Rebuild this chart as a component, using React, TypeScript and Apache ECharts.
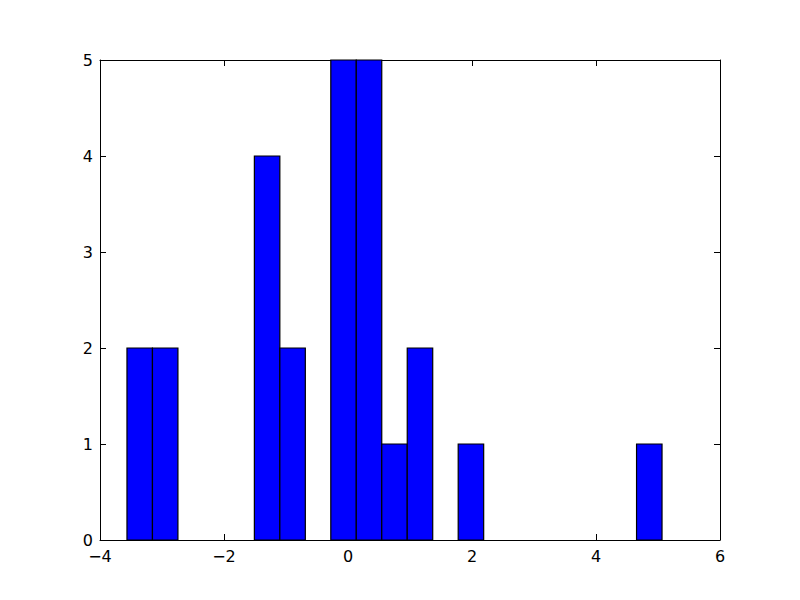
import React, { useEffect, useRef } from "react";
import * as echarts from "echarts";

// Histogram definition
const binStart = -3.565;
const binWidth = 0.41095;
const counts = [2, 2, 0, 0, 0, 4, 2, 0, 5, 5, 1, 2, 0, 1, 0, 0, 0, 0, 0, 0, 1];
const xTicks = [-4, -2, 0, 2, 4, 6];
const yTicks = [0, 1, 2, 3, 4, 5];

const fmt = (v: number) => (v < 0 ? "\u2212" + Math.abs(v) : String(v));

export default function App() {
  const ref = useRef<HTMLDivElement>(null);
  useEffect(() => {
    if (!ref.current) return;
    const chart = echarts.init(ref.current, undefined, { renderer: "svg" });
    const data = counts.map((c, i) => [binStart + i * binWidth, binStart + (i + 1) * binWidth, c]);
    const font = { fontFamily: "DejaVu Sans", fontSize: 16, color: "#000", lineHeight: 14 };
    const line = { show: true, lineStyle: { color: "#000", width: 1 } };
    const tick = { show: true, inside: true, length: 6, lineStyle: { color: "#000", width: 1 } };
    chart.setOption({
      animation: false,
      backgroundColor: "#fff",
      grid: { left: 100, right: 80, top: 60, bottom: 60, containLabel: false },
      xAxis: [
        {
          type: "value", min: xTicks[0], max: xTicks[xTicks.length - 1], interval: 2,
          position: "bottom",
          axisLine: { ...line, onZero: false }, axisTick: tick, splitLine: { show: false },
          axisLabel: { ...font, margin: 9, formatter: fmt },
        },
        {
          type: "value", min: xTicks[0], max: xTicks[xTicks.length - 1], interval: 2,
          position: "top",
          axisLine: { ...line, onZero: false }, axisTick: tick, splitLine: { show: false },
          axisLabel: { show: false },
        },
      ],
      yAxis: [
        {
          type: "value", min: yTicks[0], max: yTicks[yTicks.length - 1], interval: 1,
          position: "left",
          axisLine: { ...line, onZero: false }, axisTick: tick, splitLine: { show: false },
          axisLabel: { ...font, margin: 7, formatter: fmt },
        },
        {
          type: "value", min: yTicks[0], max: yTicks[yTicks.length - 1], interval: 1,
          position: "right",
          axisLine: { ...line, onZero: false }, axisTick: tick, splitLine: { show: false },
          axisLabel: { show: false },
        },
      ],
      series: [
        {
          type: "custom",
          xAxisIndex: 0,
          yAxisIndex: 0,
          data,
          encode: { x: [0, 1], y: 2 },
          renderItem: (params: any, api: any) => {
            const h = api.value(2);
            if (!h) return null;
            const p0 = api.coord([api.value(0), h]);
            const p1 = api.coord([api.value(1), 0]);
            return {
              type: "rect",
              shape: { x: p0[0], y: p0[1], width: p1[0] - p0[0], height: p1[1] - p0[1] },
              style: { fill: "#0000ff", stroke: "#000", lineWidth: 1.2 },
            };
          },
        },
      ],
    });
    return () => chart.dispose();
  }, []);
  return (
    <div
      ref={ref}
      style={{ position: "fixed", left: 0, top: 0, width: 800, height: 600 }}
    />
  );
}
